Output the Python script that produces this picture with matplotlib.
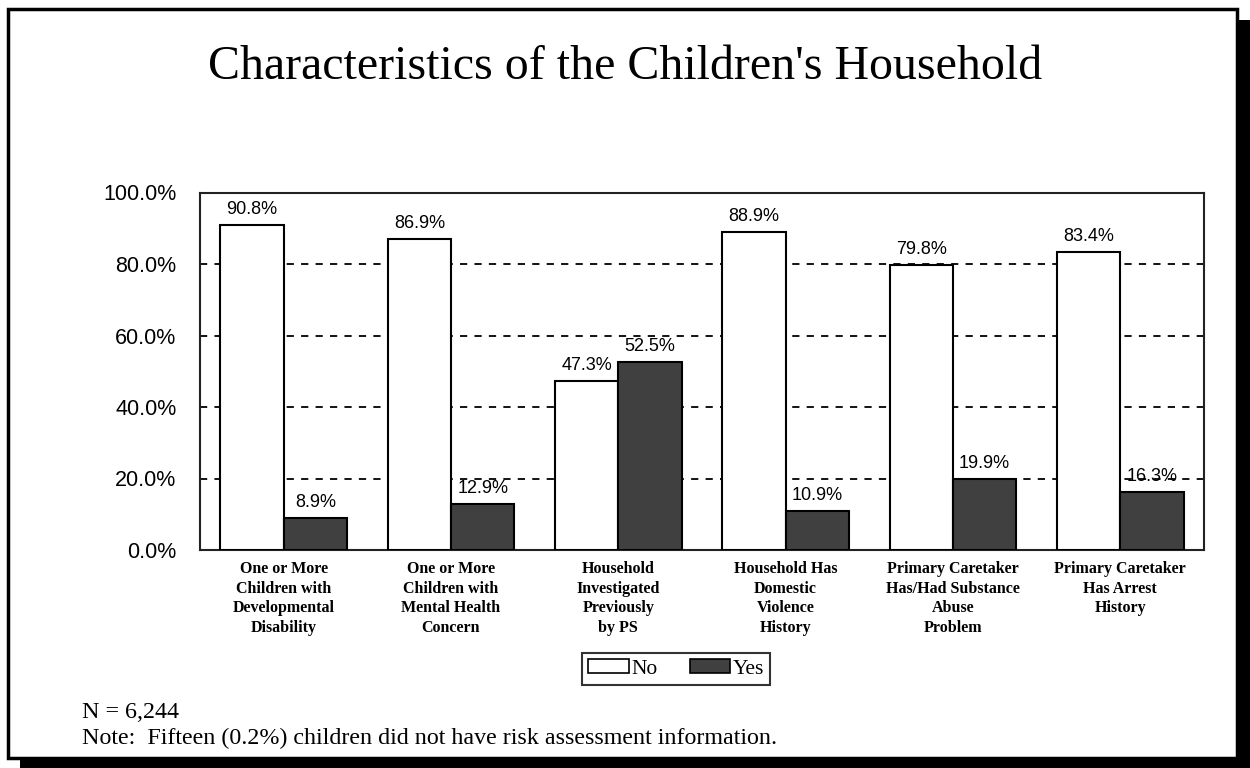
import matplotlib
matplotlib.use("Agg")
import matplotlib.pyplot as plt
import numpy as np
from matplotlib.patches import Rectangle, Patch
from matplotlib.transforms import blended_transform_factory

categories = [
    "One or More\nChildren with\nDevelopmental\nDisability",
    "One or More\nChildren with\nMental Health\nConcern",
    "Household\nInvestigated\nPreviously\nby PS",
    "Household Has\nDomestic\nViolence\nHistory",
    "Primary Caretaker\nHas/Had Substance\nAbuse\nProblem",
    "Primary Caretaker\nHas Arrest\nHistory",
]
no_vals = [90.8, 86.9, 47.3, 88.9, 79.8, 83.4]
yes_vals = [8.9, 12.9, 52.5, 10.9, 19.9, 16.3]
yticks = [0, 20, 40, 60, 80, 100]

W, H = 1250, 768
fig = plt.figure(figsize=(W / 100, H / 100), dpi=100, facecolor="white")

# shadow + frame
fig.patches.append(Rectangle((20 / W, 0), (W - 20) / W, (H - 20) / H,
                             transform=fig.transFigure, facecolor="black",
                             edgecolor="none", zorder=0))
fig.patches.append(Rectangle((8 / W, 10 / H), 1229 / W, 749 / H,
                             transform=fig.transFigure, facecolor="white",
                             edgecolor="black", linewidth=2.5, zorder=1))

ax = fig.add_axes([200 / W, 1 - 550 / H, 1004 / W, 357.5 / H])
ax.set_zorder(2)
ax.set_facecolor("white")

x = np.arange(len(categories))
bw = 0.378
no_bars = ax.bar(x - bw / 2, no_vals, bw, color="white", edgecolor="black",
                 linewidth=1.5, zorder=3)
yes_bars = ax.bar(x + bw / 2, yes_vals, bw, color="#404040", edgecolor="black",
                  linewidth=1.5, zorder=3)

for bars, vals in [(no_bars, no_vals), (yes_bars, yes_vals)]:
    for b, v in zip(bars, vals):
        ax.annotate(f"{v:.1f}%", (b.get_x() + b.get_width() / 2, v),
                    xytext=(0, 5), textcoords="offset points", ha="center",
                    va="bottom", fontsize=13, family="Liberation Sans",
                    zorder=4)

for t in yticks[1:-1]:
    ax.axhline(t, color="black", linestyle=(0, (4, 4)), linewidth=1.3, zorder=1)

ax.set_xlim(-0.5, len(categories) - 0.5)
ax.set_ylim(0, 100)
ax.set_yticks(yticks)
ax.set_yticklabels([f"{t:.1f}%" for t in yticks], family="Liberation Sans",
                   fontsize=15.5)
ax.tick_params(axis="y", length=0, pad=17)
ax.set_xticks([])
for s in ax.spines.values():
    s.set_linewidth(1.5)
    s.set_color("#222222")

tr = blended_transform_factory(ax.transData, fig.transFigure)
for i, c in enumerate(categories):
    ax.text(i, 1 - 561 / H, c, transform=tr, ha="center", va="top",
            fontsize=11.5, fontweight="bold", family="Liberation Serif",
            linespacing=1.3)

fig.text(0.5, 1 - 67 / H, "Characteristics of the Children's Household",
         ha="center", va="center", fontsize=34.5, family="Liberation Serif",
         zorder=3)

handles = [Patch(facecolor="white", edgecolor="black", linewidth=1.2),
           Patch(facecolor="#404040", edgecolor="black", linewidth=1.2)]
leg = fig.legend(handles, ["No", "Yes"], loc="center", ncol=2,
                 bbox_to_anchor=(676 / W, 1 - 669 / H), frameon=True,
                 fancybox=False, edgecolor="black", handlelength=1.9,
                 handleheight=0.6, handletextpad=0.1, columnspacing=1.5,
                 borderpad=0.3,
                 prop={"family": "Liberation Serif", "size": 15.5})
leg.get_frame().set_linewidth(1.5)
leg.set_zorder(3)

fig.text(82 / W, 1 - 712 / H, "N = 6,244", ha="left", va="center",
         fontsize=17.3, family="Liberation Serif", zorder=3)
fig.text(82 / W, 1 - 738 / H,
         "Note:  Fifteen (0.2%) children did not have risk assessment information.",
         ha="left", va="center", fontsize=17.3, family="Liberation Serif", zorder=3)

fig.savefig("out.png", dpi=100, facecolor="white")
